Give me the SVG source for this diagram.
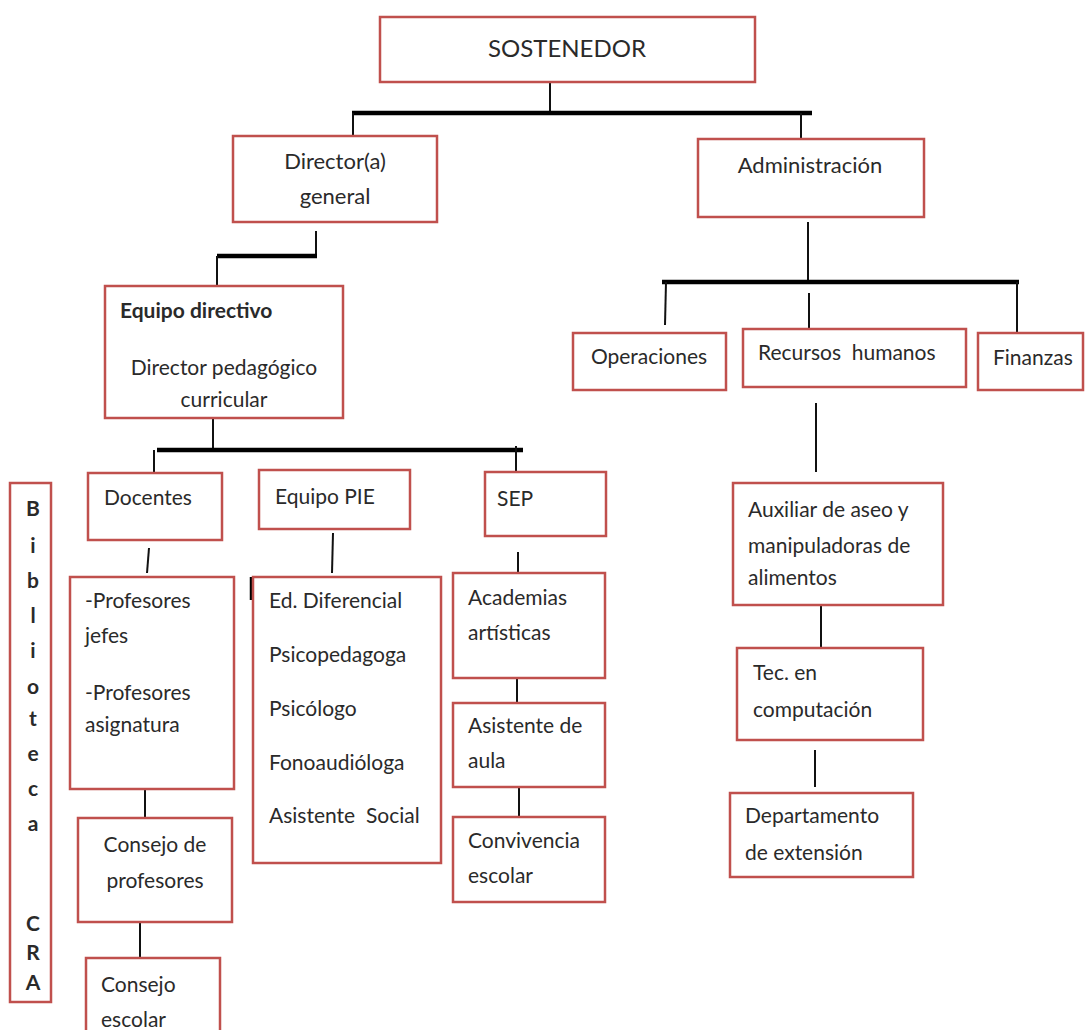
<svg xmlns="http://www.w3.org/2000/svg" width="1085" height="1030" viewBox="0 0 1085 1030">
<style>
.box{fill:#fff;stroke:#c0504d;stroke-width:2.5}
.t{font-family:Lato,"Open Sans","Liberation Sans",sans-serif;font-size:21px;fill:#2a2a2a}
.c{text-anchor:middle}
.b{font-weight:bold}
.ln{stroke:#111;stroke-width:2;fill:none}
.th{stroke:#000;stroke-width:4.5;fill:none}
</style>
<rect width="1085" height="1030" fill="#fff"/>
<g id="connectors">
<line class="ln" x1="550" y1="82" x2="550" y2="113"/>
<line class="th" x1="352" y1="113" x2="812" y2="113"/>
<line class="ln" x1="353" y1="113" x2="353" y2="136"/>
<line class="ln" x1="801" y1="113" x2="801" y2="139"/>
<line class="ln" x1="316" y1="231" x2="316" y2="256"/>
<line class="th" x1="217" y1="256" x2="317" y2="256"/>
<line class="ln" x1="217" y1="256" x2="217" y2="286"/>
<line class="ln" x1="213" y1="418" x2="213" y2="450"/>
<line class="th" x1="157" y1="450" x2="523" y2="450"/>
<line class="ln" x1="154" y1="450" x2="154" y2="473"/>
<line class="ln" x1="516" y1="446" x2="516" y2="473"/>
<line class="ln" x1="149" y1="548" x2="147" y2="573"/>
<line class="ln" x1="333" y1="533" x2="332" y2="573"/>
<line class="th" x1="252" y1="577" x2="252" y2="600"/>
<line class="ln" x1="518" y1="552" x2="518" y2="573"/>
<line class="ln" x1="145" y1="789" x2="145" y2="818"/>
<line class="ln" x1="517" y1="678" x2="517" y2="703"/>
<line class="ln" x1="519" y1="787" x2="519" y2="817"/>
<line class="ln" x1="140" y1="922" x2="140" y2="958"/>
<line class="ln" x1="808" y1="222" x2="808" y2="282"/>
<line class="th" x1="662" y1="282" x2="1019" y2="282"/>
<line class="ln" x1="666" y1="282" x2="665" y2="325"/>
<line class="ln" x1="809" y1="293" x2="809" y2="329"/>
<line class="ln" x1="1017" y1="282" x2="1017" y2="333"/>
<line class="ln" x1="816" y1="403" x2="816" y2="472"/>
<line class="ln" x1="821" y1="605" x2="821" y2="648"/>
<line class="ln" x1="815" y1="750" x2="815" y2="787"/>
</g>
<g id="sostenedor">
<rect class="box" x="380" y="17" width="375" height="65"/>
<text class="t c" x="567" y="57" style="font-size:24px">SOSTENEDOR</text>
</g>
<g id="director-general">
<rect class="box" x="233" y="136" width="204" height="86"/>
<text class="t c" x="335" y="169" style="font-size:22px">Director(a)</text>
<text class="t c" x="335" y="204" style="font-size:22px">general</text>
</g>
<g id="administracion">
<rect class="box" x="698" y="139" width="226" height="78"/>
<text class="t c" x="810" y="173" style="font-size:22px">Administración</text>
</g>
<g id="equipo-directivo">
<rect class="box" x="105" y="286" width="238" height="132"/>
<text class="t b" x="120" y="318">Equipo directivo</text>
<text class="t c" x="224" y="375">Director pedagógico</text>
<text class="t c" x="224" y="407">curricular</text>
</g>
<g id="docentes">
<rect class="box" x="88" y="473" width="134" height="67"/>
<text class="t" x="104" y="505">Docentes</text>
</g>
<g id="equipo-pie">
<rect class="box" x="259" y="470" width="151" height="59"/>
<text class="t" x="275" y="504">Equipo PIE</text>
</g>
<g id="sep">
<rect class="box" x="485" y="472" width="121" height="64"/>
<text class="t" x="497" y="506">SEP</text>
</g>
<g id="biblioteca-cra">
<rect class="box" x="10" y="483" width="41" height="519"/>
<text class="t c b" x="33" y="516">B</text>
<text class="t c b" x="33" y="553">i</text>
<text class="t c b" x="33" y="588">b</text>
<text class="t c b" x="33" y="623">l</text>
<text class="t c b" x="33" y="658">i</text>
<text class="t c b" x="33" y="694">o</text>
<text class="t c b" x="33" y="726">t</text>
<text class="t c b" x="33" y="761">e</text>
<text class="t c b" x="33" y="796">c</text>
<text class="t c b" x="33" y="831">a</text>
<text class="t c b" x="33" y="931">C</text>
<text class="t c b" x="33" y="960">R</text>
<text class="t c b" x="33" y="990">A</text>
</g>
<g id="profesores">
<rect class="box" x="70" y="577" width="164" height="212"/>
<text class="t" x="85" y="608">-Profesores</text>
<text class="t" x="85" y="643">jefes</text>
<text class="t" x="85" y="700">-Profesores</text>
<text class="t" x="85" y="732">asignatura</text>
</g>
<g id="consejo-profesores">
<rect class="box" x="78" y="818" width="154" height="104"/>
<text class="t c" x="155" y="852">Consejo de</text>
<text class="t c" x="155" y="888">profesores</text>
</g>
<g id="consejo-escolar">
<rect class="box" x="86" y="958" width="134" height="80"/>
<text class="t" x="101" y="992">Consejo</text>
<text class="t" x="101" y="1027">escolar</text>
</g>
<g id="pie-lista">
<rect class="box" x="253" y="577" width="188" height="286"/>
<text class="t" x="269" y="608">Ed. Diferencial</text>
<text class="t" x="269" y="662">Psicopedagoga</text>
<text class="t" x="269" y="716">Psicólogo</text>
<text class="t" x="269" y="770">Fonoaudióloga</text>
<text class="t" x="269" y="823" xml:space="preserve">Asistente  Social</text>
</g>
<g id="academias">
<rect class="box" x="453" y="573" width="152" height="105"/>
<text class="t" x="468" y="605">Academias</text>
<text class="t" x="468" y="640">artísticas</text>
</g>
<g id="asistente-aula">
<rect class="box" x="453" y="703" width="152" height="84"/>
<text class="t" x="468" y="733">Asistente de</text>
<text class="t" x="468" y="768">aula</text>
</g>
<g id="convivencia">
<rect class="box" x="453" y="817" width="152" height="85"/>
<text class="t" x="468" y="848">Convivencia</text>
<text class="t" x="468" y="883">escolar</text>
</g>
<g id="operaciones">
<rect class="box" x="573" y="333" width="153" height="57"/>
<text class="t c" x="649" y="364">Operaciones</text>
</g>
<g id="recursos-humanos">
<rect class="box" x="743" y="329" width="223" height="58"/>
<text class="t" x="758" y="360" xml:space="preserve">Recursos  humanos</text>
</g>
<g id="finanzas">
<rect class="box" x="978" y="333" width="105" height="57"/>
<text class="t" x="993" y="365">Finanzas</text>
</g>
<g id="auxiliar">
<rect class="box" x="733" y="483" width="210" height="122"/>
<text class="t" x="748" y="517">Auxiliar de aseo y</text>
<text class="t" x="748" y="553">manipuladoras de</text>
<text class="t" x="748" y="585">alimentos</text>
</g>
<g id="tec-computacion">
<rect class="box" x="737" y="648" width="186" height="92"/>
<text class="t" x="753" y="680">Tec. en</text>
<text class="t" x="753" y="717">computación</text>
</g>
<g id="departamento-extension">
<rect class="box" x="730" y="793" width="183" height="84"/>
<text class="t" x="745" y="823">Departamento</text>
<text class="t" x="745" y="860">de extensión</text>
</g>
</svg>
